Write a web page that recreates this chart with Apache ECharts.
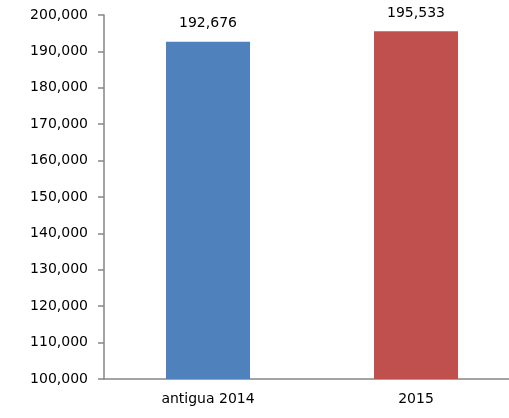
<!DOCTYPE html>
<html><head><meta charset="utf-8">
<script src="https://cdn.jsdelivr.net/npm/echarts@6/dist/echarts.min.js"></script>
<style>html,body{margin:0;padding:0;background:#fff;overflow:hidden;width:509px;height:418px}#c{width:520px;height:418px}</style>
</head><body><div id="c"></div>
<script>
const categories = ["antigua 2014", "2015"];
const values = [192676, 195533];
const colors = ["#4F81BD", "#C0504D"];
const yMin = 100000, yMax = 200000, yStep = 10000;

const FONT = "DejaVu Sans";
const chart = echarts.init(document.getElementById('c'), null, {renderer: 'canvas'});
const fmt = v => v.toLocaleString('en-US');
chart.setOption({
  animation: false,
  grid: {left: 104, right: 0, top: 15, bottom: 39, containLabel: false},
  xAxis: {
    type: 'category', data: categories,
    axisLine: {lineStyle: {color: '#868686', width: 1.5}},
    axisTick: {show: false},
    axisLabel: {color: '#000', fontFamily: FONT, fontSize: 14, margin: 13}
  },
  yAxis: {
    type: 'value', min: yMin, max: yMax, interval: yStep,
    splitLine: {show: false},
    axisLine: {show: true, lineStyle: {color: '#868686', width: 1.5}},
    axisTick: {show: true, length: 6, lineStyle: {color: '#868686', width: 1.5}},
    axisLabel: {color: '#000', fontFamily: FONT, fontSize: 14, margin: 16, formatter: fmt}
  },
  series: [{
    type: 'bar', barWidth: 84,
    data: values.map((v, i) => ({value: v, itemStyle: {color: colors[i]}})),
    label: {show: true, position: 'top', distance: 11, color: '#000', fontFamily: FONT, fontSize: 14,
      formatter: p => fmt(p.value)}
  }]
});
</script></body></html>
